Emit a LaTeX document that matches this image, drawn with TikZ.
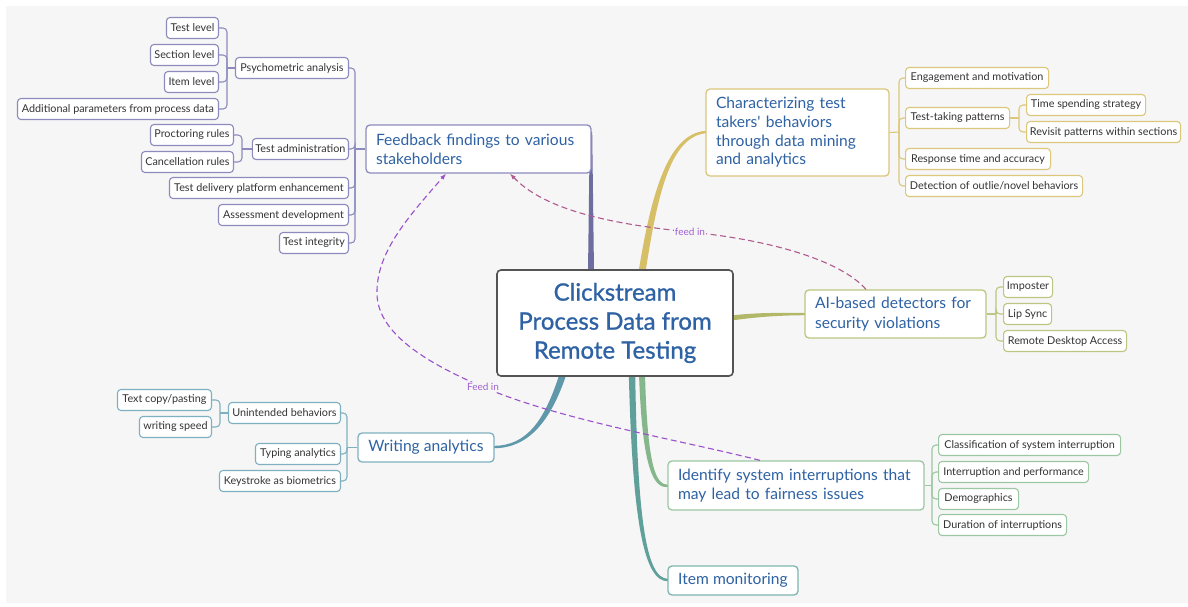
\documentclass[tikz,border=0pt]{standalone}
\usepackage{fontspec}
\setmainfont{Lato}
\newfontfamily\titlefont[FakeBold=0.9]{Lato}
\usetikzlibrary{arrows.meta,calc}
\definecolor{bg}{HTML}{F6F6F6}
\definecolor{ttl}{HTML}{2E62A4}
\definecolor{txt}{HTML}{333333}
\definecolor{purB}{HTML}{8D8BBE}
\definecolor{purL}{HTML}{6E6D9F}
\definecolor{goldB}{HTML}{DCC77A}
\definecolor{goldL}{HTML}{D6BF66}
\definecolor{oliveB}{HTML}{BEC482}
\definecolor{oliveL}{HTML}{B3B868}
\definecolor{wbB}{HTML}{7FB0C0}
\definecolor{wbL}{HTML}{5E98AA}
\definecolor{grB}{HTML}{9CC7A3}
\definecolor{grL}{HTML}{85B68C}
\definecolor{tlB}{HTML}{7DB5AF}
\definecolor{tlL}{HTML}{5FA19A}
\definecolor{rose}{HTML}{B05A8E}
\definecolor{viol}{HTML}{9A4FCC}
\definecolor{lblc}{HTML}{A060D2}
\tikzset{
  centerbox/.style={draw=black!67, line width=1.6pt, rounded corners=4pt, fill=white, text=ttl, align=center,
    minimum width=236pt, minimum height=106pt, inner sep=0pt, font=\titlefont\fontsize{24}{29}\selectfont},
  mainbox/.style={draw, line width=1.3pt, rounded corners=4pt, fill=white, text=ttl, align=left,
    inner xsep=10pt, inner ysep=0pt, font=\fontsize{15.6}{19}\selectfont},
  smallbox/.style={draw, line width=1.1pt, rounded corners=3.5pt, fill=white, text=txt,
    minimum height=21pt, inner xsep=3pt, inner ysep=0pt, font=\fontsize{10.8}{12}\selectfont},
  conn/.style={line width=1.1pt, rounded corners=4pt},
  feedline/.style={line width=1.1pt, dash pattern=on 6pt off 3.5pt, -{Latex[length=6pt,width=4.5pt]}},
  lbl/.style={fill=bg, inner sep=1pt, text=lblc, font=\fontsize{10}{11}\selectfont}
}
\begin{document}
\begin{tikzpicture}[x=1pt,y=-1pt]
\useasboundingbox (0,0) rectangle (1188,607);
\fill[white] (0,0) rectangle (1188,607);
\fill[bg] (6,6) rectangle (1188,603);

% ---------- tapered branches ----------
\fill[purL] (588,272) -- (594,272) -- (592.2,132) -- (589.8,132) -- cycle;
\fill[goldL] (638.5,272) .. controls (652,189) and (669,133.3) .. (706,130.8)
   -- (706,133.2) .. controls (671,136.7) and (658,191) .. (645.5,272) -- cycle;
\fill[oliveL] (731,315.5) .. controls (760,312.2) and (780,313) .. (805,313)
   -- (805,315.2) .. controls (780,315.4) and (760,316.6) .. (731,320.5) -- cycle;
\fill[wbL] (566.5,374) .. controls (550.9,421) and (528.5,448.2) .. (494,448.2)
   -- (494,445.8) .. controls (527.5,445.8) and (545.1,419) .. (559.5,374) -- cycle;
\fill[tlL] (635.2,374) .. controls (637.5,518) and (646,579) .. (668,578.8)
   -- (668,581.2) .. controls (644,582) and (632.5,522) .. (628.8,374) -- cycle;
\fill[grL] (645,374) .. controls (647.5,468) and (656,484.8) .. (668,484.8)
   -- (668,487.2) .. controls (654,488) and (642.5,472) .. (639,374) -- cycle;

% ---------- main nodes ----------
\node[centerbox] (C) at (615,323) {Clickstream\\Process Data from\\Remote Testing};
\node[mainbox, draw=purB, minimum width=225pt, minimum height=48pt, text width=205pt] (F) at (478.5,149)
  {Feedback findings to various\\stakeholders};
\node[mainbox, draw=goldB, minimum width=183pt, minimum height=87pt, text width=163pt,
  font=\fontsize{15.6}{18.7}\selectfont] (CH) at (797.5,132.5)
  {Characterizing test\\takers\textquotesingle{} behaviors\\through data mining\\and analytics};
\node[mainbox, draw=oliveB, minimum width=181pt, minimum height=48pt, text width=161pt,
  font=\fontsize{15.6}{20}\selectfont] (AI) at (895.5,314)
  {AI-based detectors for\\security violations};
\node[mainbox, draw=wbB, minimum width=136pt, minimum height=29pt, align=center] (W) at (426,447.5)
  {Writing analytics};
\node[mainbox, draw=grB, minimum width=256pt, minimum height=49pt, text width=236pt] (I) at (796,485.5)
  {Identify system interruptions that\\may lead to fairness issues};
\node[mainbox, draw=tlB, minimum width=130pt, minimum height=29pt] (IM) at (733,580.5)
  {Item monitoring};

% ---------- feedback subtree ----------
\begin{scope}[every node/.style={smallbox, draw=purB, anchor=east}]
\node[minimum width=113pt] (psy) at (349,68) {Psychometric analysis};
\node[minimum width=96pt] (adm) at (349,149) {Test administration};
\node[minimum width=179pt] (tdp) at (349,188) {Test delivery platform enhancement};
\node[minimum width=130pt] (asd) at (349,215) {Assessment development};
\node[minimum width=69pt] (tin) at (349,243) {Test integrity};
\node[minimum width=52pt] (tl) at (219,28) {Test level};
\node[minimum width=68pt] (sl) at (219,55) {Section level};
\node[minimum width=54pt] (il) at (219,82) {Item level};
\node[minimum width=201pt] (ap) at (219,109) {Additional parameters from process data};
\node[minimum width=83pt] (pr) at (234,135) {Proctoring rules};
\node[minimum width=92pt] (cr) at (234,162) {Cancellation rules};
\end{scope}
\coordinate (bF) at (355,149);
\coordinate (bP) at (227,68);
\coordinate (bA) at (242,149);
\begin{scope}[draw=purB, conn]
\draw (F.west) -- (bF);
\foreach \n in {psy,adm,tdp,asd,tin} \draw (bF) |- (\n.east);
\draw (psy.west) -- (bP);
\foreach \n in {tl,sl,il,ap} \draw (bP) |- (\n.east);
\draw (adm.west) -- (bA);
\foreach \n in {pr,cr} \draw (bA) |- (\n.east);
\end{scope}

% ---------- characterizing subtree ----------
\begin{scope}[every node/.style={smallbox, draw=goldB, anchor=west}]
\node[minimum width=143pt] (em) at (905,78) {Engagement and motivation};
\node[minimum width=104pt] (ttp) at (905,118) {Test-taking patterns};
\node[minimum width=145pt] (rta) at (905,159) {Response time and accuracy};
\node[minimum width=177pt] (dob) at (905,186) {Detection of outlie/novel behaviors};
\node[minimum width=119pt] (tss) at (1026,105) {Time spending strategy};
\node[minimum width=154pt] (rpw) at (1026,132) {Revisit patterns within sections};
\end{scope}
\coordinate (bCH) at (899,132);
\coordinate (bT) at (1019,118);
\begin{scope}[draw=goldB, conn]
\draw (CH.east) -- (bCH);
\foreach \n in {em,ttp,rta,dob} \draw (bCH) |- (\n.west);
\draw (ttp.east) -- (bT);
\foreach \n in {tss,rpw} \draw (bT) |- (\n.west);
\end{scope}

% ---------- AI subtree ----------
\begin{scope}[every node/.style={smallbox, draw=oliveB, anchor=west}]
\node[minimum width=49pt] (imp) at (1003,287) {Imposter};
\node[minimum width=48pt] (lip) at (1003,314) {Lip Sync};
\node[minimum width=123pt] (rda) at (1003,341) {Remote Desktop Access};
\end{scope}
\coordinate (bAI) at (996,314);
\begin{scope}[draw=oliveB, conn]
\draw (AI.east) -- (bAI);
\foreach \n in {imp,lip,rda} \draw (bAI) |- (\n.west);
\end{scope}

% ---------- writing subtree ----------
\begin{scope}[every node/.style={smallbox, draw=wbB, anchor=east}]
\node[minimum width=112pt] (ub) at (341,413) {Unintended behaviors};
\node[minimum width=85pt] (ta) at (341,454) {Typing analytics};
\node[minimum width=121pt] (kb) at (341,481) {Keystroke as biometrics};
\node[minimum width=94pt] (tcp) at (212,400) {Text copy/pasting};
\node[minimum width=72pt] (ws) at (212,427) {writing speed};
\end{scope}
\coordinate (bW) at (347,447.5);
\coordinate (bU) at (220,413);
\begin{scope}[draw=wbB, conn]
\draw (W.west) -- (bW);
\foreach \n in {ub,ta,kb} \draw (bW) |- (\n.east);
\draw (ub.west) -- (bU);
\foreach \n in {tcp,ws} \draw (bU) |- (\n.east);
\end{scope}

% ---------- identify subtree ----------
\begin{scope}[every node/.style={smallbox, draw=grB, anchor=west}]
\node[minimum width=182pt] (csi) at (938,445) {Classification of system interruption};
\node[minimum width=150pt] (iap) at (938,472) {Interruption and performance};
\node[minimum width=80pt] (dem) at (938,499) {Demographics};
\node[minimum width=128pt] (doi) at (938,525) {Duration of interruptions};
\end{scope}
\coordinate (bI) at (932,485.5);
\begin{scope}[draw=grB, conn]
\draw (I.east) -- (bI);
\foreach \n in {csi,iap,dem,doi} \draw (bI) |- (\n.west);
\end{scope}

% ---------- feed-in arrows ----------
\draw[feedline, rose] ([xshift=-29.5pt]AI.north) .. controls (840,260) and (770,240) .. (690,232)
   node[lbl] (fi1) {feed in}
   .. controls (610,224) and (545,210) .. ([xshift=31.5pt]F.south);
\draw[feedline, viol] ([xshift=-36pt]I.north) .. controls (680,440) and (560,420) .. (483,387)
   node[lbl] (fi2) {Feed in}
   .. controls (420,360) and (375,330) .. (377,290)
   .. controls (378,250) and (410,215) .. ([xshift=-32.5pt]F.south);
\end{tikzpicture}
\end{document}
